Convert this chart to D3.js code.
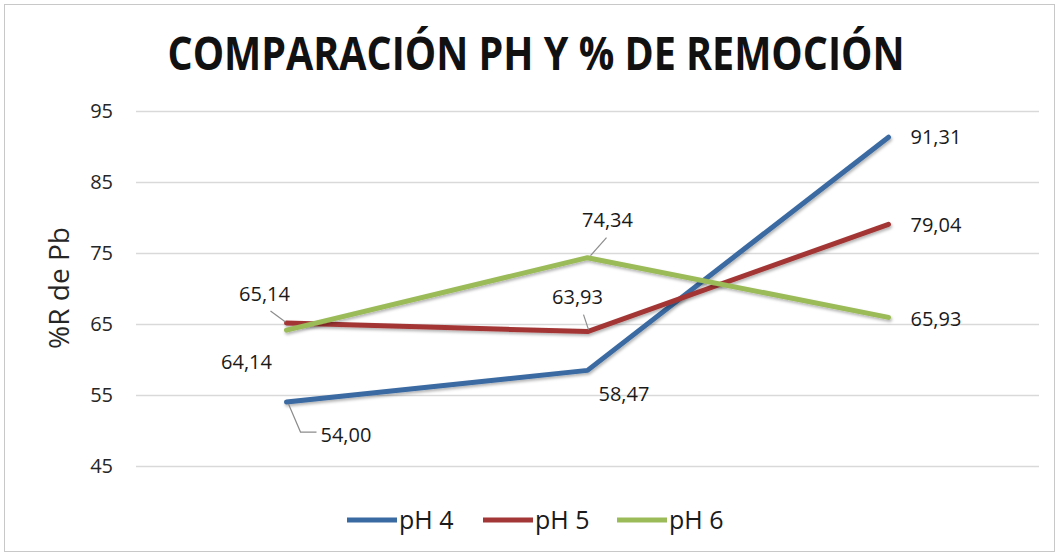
<!DOCTYPE html>
<html>
<head>
<meta charset="utf-8">
<script src="https://cdn.jsdelivr.net/npm/d3@7"></script>
<style>
  body { margin: 0; background: #fff; }
  svg { display: block; font-family: "Open Sans", "DejaVu Sans", sans-serif; }
</style>
</head>
<body>
<svg width="1059" height="556"></svg>
<script>
// data
var categories = ["1", "2", "3"];
var seriesNames = ["pH 4", "pH 5", "pH 6"];
var ph4 = [54.00, 58.47, 91.31];
var ph5 = [65.14, 63.93, 79.04];
var ph6 = [64.14, 74.34, 65.93];
var yTicks = [45, 55, 65, 75, 85, 95];

var colors = ["#3a6aa2", "#a33636", "#9bbb59"];

// label placement per point: dx, dy, anchor, leader line (relative to point)
var labelPos = [
  [{dx: 34, dy: 33, a: "start", lead: [[2, 2], [14, 30], [30, 30]]},
   {dx: 11, dy: 24, a: "start"},
   {dx: 22, dy: 0, a: "start"}],
  [{dx: -22, dy: -29, a: "middle", lead: [[-1, -1], [-16, -12]]},
   {dx: -10, dy: -35, a: "middle", lead: [[1, -2], [-4, -17]]},
   {dx: 22, dy: 1, a: "start"}],
  [{dx: -40, dy: 32, a: "middle"},
   {dx: 20, dy: -38, a: "middle", lead: [[3, -2], [19, -20]]},
   {dx: 22, dy: 2, a: "start"}]
];

var series = [ph4, ph5, ph6].map(function(v, i) {
  return {name: seriesNames[i], values: v, color: colors[i], labels: labelPos[i]};
});

var svg = d3.select("svg"),
    margin = {top: 111, right: 20, bottom: 90, left: 136},
    width = 1039 - margin.left,
    height = 466 - margin.top;

// outer frame
svg.append("rect")
    .attr("x", 4.5).attr("y", 4.5)
    .attr("width", 1050).attr("height", 547)
    .attr("fill", "#fff")
    .attr("stroke", "#c8c8c8");

var defs = svg.append("defs");
defs.append("filter").attr("id", "shadow")
    .attr("x", "-10%").attr("y", "-10%").attr("width", "120%").attr("height", "130%")
  .append("feDropShadow")
    .attr("dx", 1).attr("dy", 2).attr("stdDeviation", 1.5)
    .attr("flood-color", "#000").attr("flood-opacity", 0.3);

var x = d3.scalePoint().domain(categories).range([0, width]).padding(0.5);
var y = d3.scaleLinear().domain([45, 95]).range([height, 0]);

var g = svg.append("g")
    .attr("transform", "translate(" + margin.left + "," + margin.top + ")");

// gridlines + y labels
g.append("g")
    .attr("class", "axis axis--y")
    .call(d3.axisLeft(y).tickValues(yTicks).tickSize(-width).tickPadding(23))
    .call(function(a) {
      a.select(".domain").remove();
      a.selectAll("line").attr("stroke", "#d9d9d9").attr("stroke-width", 1.3);
      a.selectAll("text")
          .attr("fill", "#262626")
          .style("font-size", "20px")
          .style("font-family", "'Open Sans', sans-serif");
    });

// y axis title
svg.append("text")
    .attr("transform", "translate(69,288) rotate(-90)")
    .attr("text-anchor", "middle")
    .attr("fill", "#262626")
    .style("font-size", "28px")
    .text("%R de Pb");

// title
svg.append("text")
    .attr("x", 536).attr("y", 70)
    .attr("text-anchor", "middle")
    .attr("fill", "#111")
    .attr("textLength", 737)
    .attr("lengthAdjust", "spacingAndGlyphs")
    .style("font-size", "46px")
    .style("font-weight", "bold")
    .text("COMPARACIÓN PH Y % DE REMOCIÓN");

var line = d3.line()
    .x(function(d, i) { return x(categories[i]); })
    .y(function(d) { return y(d); });

// lines
g.selectAll(".series")
    .data(series)
  .enter().append("path")
    .attr("class", "series")
    .attr("d", function(d) { return line(d.values); })
    .attr("fill", "none")
    .attr("stroke", function(d) { return d.color; })
    .attr("stroke-width", 5)
    .attr("stroke-linejoin", "round")
    .attr("stroke-linecap", "round")
    .attr("filter", "url(#shadow)");

// data labels
series.forEach(function(s) {
  s.values.forEach(function(v, i) {
    var px = x(categories[i]), py = y(v), lp = s.labels[i];
    if (lp.lead) {
      g.append("polyline")
          .attr("points", lp.lead.map(function(p) { return (px + p[0]) + "," + (py + p[1]); }).join(" "))
          .attr("fill", "none")
          .attr("stroke", "#8c8c8c")
          .attr("stroke-width", 1.2);
    }
    g.append("text")
        .attr("x", px + lp.dx)
        .attr("y", py + lp.dy)
        .attr("dy", "0.35em")
        .attr("text-anchor", lp.a)
        .attr("fill", "#1a1a1a")
        .style("font-size", "20px")
        .text(v.toFixed(2).replace(".", ","));
  });
});

// legend
var legendX = [347, 483, 617];
var legend = svg.selectAll(".legend")
    .data(series)
  .enter().append("g")
    .attr("class", "legend")
    .attr("transform", function(d, i) { return "translate(" + legendX[i] + ",520)"; });

legend.append("line")
    .attr("x1", 0).attr("x2", 50)
    .attr("stroke", function(d) { return d.color; })
    .attr("stroke-width", 5);

legend.append("text")
    .attr("x", 52)
    .attr("dy", "0.35em")
    .attr("fill", "#1a1a1a")
    .style("font-size", "25px")
    .text(function(d) { return d.name; });
</script>
</body>
</html>
